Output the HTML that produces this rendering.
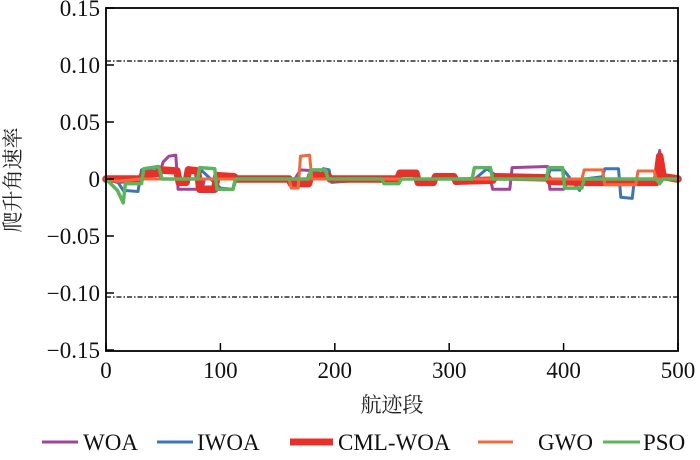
<!DOCTYPE html>
<html><head><meta charset="utf-8"><style>
body{margin:0;background:#fff}
.serif{font-family:"Liberation Serif","Times New Roman","DejaVu Serif",serif}
</style></head><body>
<svg width="700" height="455" viewBox="0 0 700 455">
<g id="plot"></g>
<g id="axes"></g>
<text x="20" y="180" font-size="21" text-anchor="middle" transform="rotate(-90 20 180)" font-family="Noto Serif CJK SC, Noto Sans CJK SC, serif" fill="#222">爬升角速率</text>
<text x="392" y="412" font-size="21" text-anchor="middle" font-family="Noto Serif CJK SC, Noto Sans CJK SC, serif" fill="#222">航迹段</text>
<g id="legend"></g>
</svg>
<script>
const xTicks=[0,100,200,300,400,500];
const yTicks=[0.15,0.10,0.05,0,-0.05,-0.10,-0.15];
const yTickLabels=["0.15","0.10","0.05","0","\u22120.05","\u22120.10","\u22120.15"];
const limitUpper=0.1035, limitLower=-0.1035;
const seriesNames=["WOA","IWOA","CML-WOA","GWO","PSO"];
const woa=[[0,0],[10,-0.003],[30,-0.002],[33,0.004],[47,0.006],[50,0.015],[55,0.02],[61,0.021],[63,-0.009],[84,-0.009],[86,0],[165,0],[170,0.008],[185,0.007],[188,0],[230,0],[240,-0.002],[260,0],[336,0],[338,-0.009],[353,-0.009],[355,0.01],[386,0.011],[388,-0.009],[400,-0.009],[403,-0.003],[480,-0.003],[484,0.025],[486,0.002],[500,0]];
const iwoa=[[0,0],[10,-0.002],[15,-0.01],[28,-0.011],[31,0.008],[45,0.01],[48,0],[80,0],[83,0.008],[100,-0.008],[111,-0.009],[114,0],[188,0],[190,0.009],[195,0.008],[197,-0.003],[210,-0.002],[213,0],[310,0],[320,-0.002],[333,0.009],[345,0],[386,0],[388,0.008],[400,0.008],[414,-0.01],[418,0],[434,0.002],[436,0.009],[448,0.009],[450,-0.016],[460,-0.017],[462,0],[500,0]];
const cml=[[0,0],[10,0],[30,0],[33,0.004],[45,0.005],[47,0.008],[62,0.007],[64,-0.003],[70,-0.003],[72,0.008],[80,0.007],[82,-0.009],[95,-0.009],[97,0.003],[112,0.002],[114,0],[160,0],[162,-0.004],[177,-0.004],[179,0.003],[194,0.003],[196,0],[255,0],[257,0.005],[271,0.005],[273,-0.003],[286,-0.003],[288,0.002],[304,0.002],[306,-0.002],[338,-0.001],[340,0.002],[386,0.001],[388,-0.002],[420,-0.003],[481,-0.003],[484,0.02],[487,0.002],[500,0]];
const gwo=[[0,0],[10,-0.002],[30,0],[160,0],[162,-0.008],[168,-0.008],[170,0.02],[178,0.021],[180,0],[416,0],[418,0.008],[434,0.008],[436,-0.005],[463,-0.005],[465,0.007],[479,0.007],[481,0],[500,0]];
const pso=[[0,0],[10,-0.01],[15,-0.021],[17,-0.004],[31,-0.004],[33,0.009],[46,0.011],[49,0],[80,0],[82,0.01],[95,0.009],[97,-0.009],[111,-0.009],[113,0],[177,0],[179,0.008],[192,0.008],[194,0],[241,0],[243,-0.004],[256,-0.004],[258,0],[320,0],[322,0.01],[336,0.01],[338,0],[385,0],[387,0.01],[399,0.01],[401,-0.008],[416,-0.008],[418,0],[481,0],[484,-0.004],[487,0],[500,0]];
const seriesData=[woa,iwoa,cml,gwo,pso];
const colors=["#a0449c","#3d75b9","#e8302a","#f26a3c","#5cb45b"];
const widths=[3,3,7.5,3,3.5];

const L=106,R=678,T=8,B=351;
const X=v=>L+(v-0)/(500-0)*(R-L);
const Y=v=>179-(v/0.15)*(179-T);
const NS="http://www.w3.org/2000/svg";
const plot=document.getElementById('plot'), axes=document.getElementById('axes'), leg=document.getElementById('legend');
function mk(tag,attrs,parent){const e=document.createElementNS(NS,tag);for(const k in attrs)e.setAttribute(k,attrs[k]);parent.appendChild(e);return e;}

[limitUpper,limitLower].forEach((v,i)=>{
  const l=mk('line',{x1:L,x2:R,y1:Y(v),y2:Y(v),stroke:'#000','stroke-width':1.2,'stroke-dasharray':'5 2 1.5 2'},plot);
  
  
});
seriesData.forEach((d,i)=>{
  const p=mk('polyline',{points:d.map(q=>X(q[0]).toFixed(1)+','+Y(q[1]).toFixed(1)).join(' '),fill:'none',stroke:colors[i],'stroke-width':widths[i],'stroke-linejoin':'round','stroke-linecap':'round'},plot);
  
  
});
const fr=mk('rect',{x:L,y:T,width:R-L,height:B-T,fill:'none',stroke:'#000','stroke-width':1.8},axes);


xTicks.forEach(v=>{
  mk('line',{x1:X(v),x2:X(v),y1:B,y2:B-8,stroke:'#000','stroke-width':1.5},axes);
  const t=mk('text',{x:X(v),y:B+27,'font-size':23,'text-anchor':'middle','class':'serif','font-family':'Liberation Serif, DejaVu Serif, serif',fill:'#111'},axes);t.textContent=v;
  
  
});
yTicks.forEach((v,i)=>{
  mk('line',{x1:L,x2:L+8,y1:Y(v),y2:Y(v),stroke:'#000','stroke-width':1.5},axes);
  const t=mk('text',{x:L-6,y:Y(v)+8,'font-size':23,'text-anchor':'end','class':'serif','font-family':'Liberation Serif, DejaVu Serif, serif',fill:'#111'},axes);t.textContent=yTickLabels[i];
  
  
});
const legX=[[42,78,83],[157,193,197],[290,333,338],[478,513,538],[603,640,643]];
seriesNames.forEach((n,i)=>{
  const g=mk('g',{},leg);
  
  
  mk('line',{x1:legX[i][0],x2:legX[i][1],y1:442,y2:442,stroke:colors[i],'stroke-width':i===2?7:3},g);
  const t=mk('text',{x:legX[i][2],y:450,'font-size':23,'class':'serif','font-family':'Liberation Serif, DejaVu Serif, serif',fill:'#111'},g);t.textContent=n;
});
</script>
</body></html>
